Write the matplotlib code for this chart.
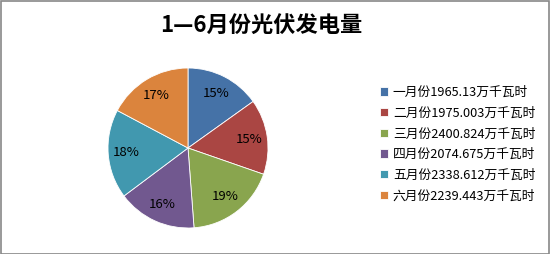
import math
import matplotlib
matplotlib.use("Agg")
import matplotlib.pyplot as plt
from matplotlib.patches import Rectangle

plt.rcParams['font.family'] = ['Noto Sans CJK SC', 'DejaVu Sans']

months = ["一月份", "二月份", "三月份", "四月份", "五月份", "六月份"]
values = [1965.13, 1975.003, 2400.824, 2074.675, 2338.612, 2239.443]
value_labels = ["1965.13", "1975.003", "2400.824", "2074.675", "2338.612", "2239.443"]
pct_labels = ["15%", "15%", "19%", "16%", "18%", "17%"]
unit = "万千瓦时"
colors = ["#4572A7", "#AA4643", "#89A54E", "#71588F", "#4198AF", "#DB843D"]
title = "1—6月份光伏发电量"

W, H = 550, 254
fig = plt.figure(figsize=(W / 100, H / 100), dpi=100)
fig.patch.set_facecolor("white")
fig.patches.append(Rectangle((0.5 / W, 0.5 / H), 1 - 1.5 / W, 1 - 1.5 / H, transform=fig.transFigure,
                             fill=False, edgecolor="#888888", linewidth=1.2))

cx, cy, r = 188, 148, 80
ax = fig.add_axes([(cx - r) / W, (H - cy - r) / H, 2 * r / W, 2 * r / H])
wedges, texts = ax.pie(values, colors=colors, startangle=90, counterclock=False,
                       wedgeprops=dict(edgecolor="white", linewidth=0.6))
for w, lab in zip(wedges, pct_labels):
    ang = math.radians((w.theta1 + w.theta2) / 2)
    ax.text(0.77 * math.cos(ang), 0.77 * math.sin(ang), lab, ha="center", va="center",
            fontsize=9.5, color="black")
ax.set_xlim(-1, 1)
ax.set_ylim(-1, 1)
ax.set_aspect("equal")

fig.text(261 / W, 1 - 25 / H, title, ha="center", va="center", fontsize=16, fontweight="bold")

labels = [f"{m}{v}{unit}" for m, v in zip(months, value_labels)]
fig.legend(wedges, labels, loc="upper left", bbox_to_anchor=(380 / W, 1 - 86 / H),
           frameon=False, fontsize=9.2, labelspacing=0.6, handlelength=0.6, handleheight=0.6,
           handletextpad=0.4, borderaxespad=0, borderpad=0)

fig.savefig("out.png", dpi=100)
